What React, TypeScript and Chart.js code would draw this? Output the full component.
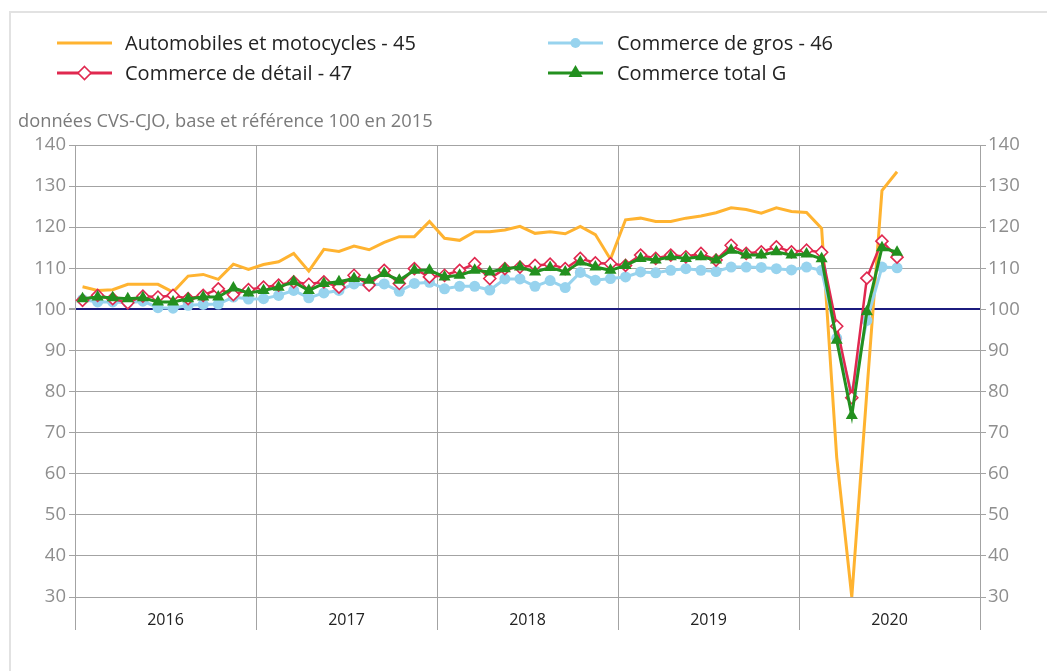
import React, { useEffect, useRef } from 'react';
import { Chart, registerables } from 'chart.js';

Chart.register(...registerables);

const years = ['2016', '2017', '2018', '2019', '2020'];

const autoMoto = [
  105.5, 104.6, 104.8, 106.1, 106.1, 106.1, 104.2, 108.1, 108.5, 107.3, 111.0, 109.7,
  110.9, 111.6, 113.6, 109.3, 114.6, 114.1, 115.4, 114.5, 116.3, 117.7, 117.7, 121.4,
  117.3, 116.8, 118.9, 118.9, 119.3, 120.2, 118.5, 118.9, 118.4, 120.2, 118.2, 112.2,
  121.8, 122.2, 121.4, 121.4, 122.2, 122.7, 123.5, 124.7, 124.3, 123.4, 124.7, 123.8,
  123.6, 119.7, 64.0, 30.0, 80.0, 128.9, 133.5,
];

const gros = [
  102.4, 101.8, 101.8, 101.6, 102.0, 100.4, 100.3, 101.0, 101.2, 101.3, 103.0, 102.5,
  102.6, 103.4, 104.6, 102.8, 104.0, 104.6, 106.2, 105.9, 106.2, 104.4, 106.3, 106.6,
  105.0, 105.6, 105.6, 104.7, 107.4, 107.4, 105.6, 107.0, 105.3, 109.0, 107.1, 107.5,
  107.9, 109.1, 108.9, 109.5, 109.9, 109.5, 109.2, 110.3, 110.3, 110.2, 109.9, 109.6,
  110.3, 109.5, 93.0, 79.5, 97.3, 110.3, 110.1,
];

const detail = [
  102.2, 103.4, 102.6, 101.6, 103.2, 103.0, 103.4, 102.6, 103.4, 105.0, 103.6, 104.8,
  105.4, 105.9, 106.7, 106.1, 106.7, 105.4, 108.3, 105.9, 109.5, 106.3, 109.9, 107.9,
  108.3, 109.5, 111.1, 107.5, 109.9, 110.3, 110.7, 111.0, 109.9, 112.4, 111.3, 111.1,
  110.7, 113.2, 112.4, 113.2, 112.8, 113.6, 112.0, 115.6, 113.6, 114.0, 115.2, 114.0,
  114.4, 113.9, 95.9, 78.5, 107.6, 116.6, 112.7,
];

const total = [
  102.6, 103.0, 102.8, 102.6, 102.8, 101.8, 101.8, 102.6, 103.0, 103.0, 105.2, 104.0,
  104.6, 105.4, 106.7, 104.6, 106.3, 106.7, 107.5, 107.1, 108.7, 107.1, 109.5, 109.5,
  107.9, 108.3, 109.5, 109.1, 109.9, 110.3, 109.1, 110.2, 109.1, 111.5, 110.3, 109.5,
  110.7, 112.4, 112.0, 112.8, 112.4, 112.8, 112.0, 114.4, 113.2, 113.2, 114.0, 113.2,
  113.5, 112.3, 92.5, 74.2, 99.4, 115.0, 113.9,
];

const seriesNames = [
  'Automobiles et motocycles - 45',
  'Commerce de gros - 46',
  'Commerce de détail - 47',
  'Commerce total G',
];

const ORANGE = '#FFB330';
const BLUE = '#97D3EE';
const RED = '#E0284F';
const GREEN = '#23901F';
const NAVY = '#1B1B7E';
const GRID = '#A3A3A3';
const FONT = '"Open Sans", "Noto Sans", sans-serif';

const toPoints = (arr: number[]) => arr.map((v, i) => ({ x: i + 0.5, y: v }));

const yearExtPlugin = {
  id: 'yearExt',
  afterDraw(chart: any) {
    const { ctx, chartArea } = chart;
    const xs = chart.scales.x;
    ctx.save();
    ctx.strokeStyle = GRID;
    ctx.lineWidth = 1;
    for (let k = 0; k <= years.length; k++) {
      const px = Math.round(xs.getPixelForValue(k * 12)) + 0.5;
      ctx.beginPath();
      ctx.moveTo(px, chartArea.bottom);
      ctx.lineTo(px, chartArea.bottom + 33);
      ctx.stroke();
    }
    ctx.restore();
  },
};

function LegendIcon({ kind }: { kind: number }) {
  const color = [ORANGE, BLUE, RED, GREEN][kind];
  return (
    <svg width={56} height={22} style={{ display: 'block' }}>
      <line x1={0} y1={11} x2={55} y2={11} stroke={color} strokeWidth={3} />
      {kind === 1 && <circle cx={27.5} cy={11} r={5} fill={color} />}
      {kind === 2 && (
        <polygon points="27.5,4.5 34,11 27.5,17.5 21,11" fill="#fff" stroke={color} strokeWidth={1.6} />
      )}
      {kind === 3 && <polygon points="27.5,3 34.5,15 20.5,15" fill={color} />}
    </svg>
  );
}

export default function App() {
  const ref = useRef<HTMLCanvasElement | null>(null);

  useEffect(() => {
    if (!ref.current) return;
    const common = { showLine: true, spanGaps: false, tension: 0 };
    const chart = new Chart(ref.current, {
      type: 'scatter',
      data: {
        datasets: [
          {
            ...common,
            label: seriesNames[3],
            data: toPoints(total),
            borderColor: GREEN,
            backgroundColor: GREEN,
            borderWidth: 3,
            pointStyle: 'triangle',
            pointRadius: 7,
            pointBorderWidth: 0,
            order: 0,
          },
          {
            ...common,
            label: seriesNames[2],
            data: toPoints(detail),
            borderColor: RED,
            backgroundColor: '#ffffff',
            borderWidth: 2.5,
            pointStyle: 'rectRot',
            pointRadius: 6,
            pointBorderWidth: 1.6,
            pointBorderColor: RED,
            pointBackgroundColor: '#ffffff',
            order: 1,
          },
          {
            ...common,
            label: seriesNames[1],
            data: toPoints(gros),
            borderColor: BLUE,
            backgroundColor: BLUE,
            borderWidth: 3,
            pointStyle: 'circle',
            pointRadius: 5.5,
            pointBorderWidth: 0,
            order: 2,
          },
          {
            ...common,
            label: seriesNames[0],
            data: toPoints(autoMoto),
            borderColor: ORANGE,
            backgroundColor: ORANGE,
            borderWidth: 3,
            pointRadius: 0,
            order: 3,
          },
        ],
      },
      options: {
        responsive: false,
        animation: false,
        devicePixelRatio: 1,
        layout: { padding: { top: 145, left: 0, right: 0, bottom: 0 } },
        plugins: { legend: { display: false }, tooltip: { enabled: false }, title: { display: false } },
        scales: {
          x: {
            type: 'linear',
            min: 0,
            max: 60,
            afterFit: (s: any) => { s.height = 74; },
            afterBuildTicks: (s: any) => {
              const t: any[] = [];
              for (let v = 0; v <= 60; v += 6) t.push({ value: v });
              s.ticks = t;
            },
            ticks: {
              autoSkip: false,
              maxRotation: 0,
              padding: 14,
              color: '#222',
              font: { family: FONT, size: 16 },
              callback: (v: any) => (Number(v) % 12 === 6 ? years[(Number(v) - 6) / 12] : ''),
            },
            grid: {
              color: (c: any) => (c.tick && c.tick.value % 12 === 0 ? GRID : 'rgba(0,0,0,0)'),
              lineWidth: 1,
              drawTicks: false,
            },
            border: { display: false },
          },
          y: {
            position: 'left',
            min: 30,
            max: 140,
            afterFit: (s: any) => { s.width = 75; },
            ticks: {
              stepSize: 10,
              padding: 3,
              color: '#8e8e8e',
              font: { family: FONT, size: 18.5 },
            },
            grid: {
              color: (c: any) => (c.tick && c.tick.value === 100 ? NAVY : GRID),
              lineWidth: (c: any) => (c.tick && c.tick.value === 100 ? 2 : 1),
              tickColor: GRID,
              tickLength: 6,
            },
            border: { display: true, color: GRID },
          },
          y2: {
            position: 'right',
            min: 30,
            max: 140,
            afterFit: (s: any) => { s.width = 67; },
            ticks: {
              stepSize: 10,
              padding: 2,
              color: '#8e8e8e',
              font: { family: FONT, size: 18.5 },
            },
            grid: { drawOnChartArea: false, color: GRID, tickLength: 6 },
            border: { display: true, color: GRID },
          },
        },
      },
      plugins: [yearExtPlugin],
    } as any);
    return () => chart.destroy();
  }, []);

  const legendText: React.CSSProperties = {
    position: 'fixed',
    fontFamily: FONT,
    fontSize: 20,
    color: '#222',
    whiteSpace: 'nowrap',
    lineHeight: '24px',
  };

  return (
    <div>
      <div
        style={{
          position: 'fixed',
          left: 9,
          top: 11,
          right: -10,
          bottom: -10,
          border: '2px solid #e2e2e2',
        }}
      />
      <canvas
        ref={ref}
        width={1047}
        height={671}
        style={{ position: 'fixed', left: 0, top: 0, width: 1047, height: 671 }}
      />
      <div style={{ position: 'fixed', left: 57, top: 32 }}><LegendIcon kind={0} /></div>
      <div style={{ ...legendText, left: 125, top: 31 }}>{seriesNames[0]}</div>
      <div style={{ position: 'fixed', left: 548, top: 32 }}><LegendIcon kind={1} /></div>
      <div style={{ ...legendText, left: 617, top: 31 }}>{seriesNames[1]}</div>
      <div style={{ position: 'fixed', left: 57, top: 62 }}><LegendIcon kind={2} /></div>
      <div style={{ ...legendText, left: 125, top: 61 }}>{seriesNames[2]}</div>
      <div style={{ position: 'fixed', left: 548, top: 62 }}><LegendIcon kind={3} /></div>
      <div style={{ ...legendText, left: 617, top: 61 }}>{seriesNames[3]}</div>
      <div
        style={{
          position: 'fixed',
          left: 18,
          top: 108,
          fontFamily: FONT,
          fontSize: 18.3,
          color: '#7a7a7a',
          whiteSpace: 'nowrap',
          lineHeight: '24px',
        }}
      >
        données CVS-CJO, base et référence 100 en 2015
      </div>
    </div>
  );
}
